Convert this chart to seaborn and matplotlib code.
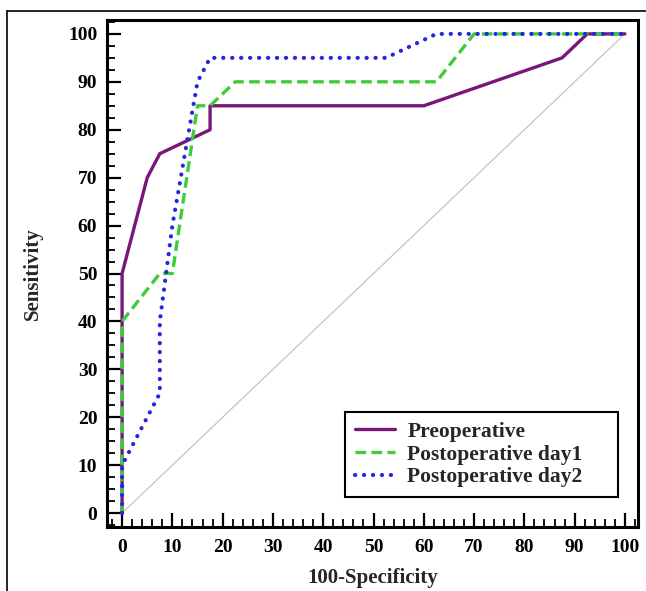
import matplotlib
matplotlib.use("Agg")
import matplotlib.pyplot as plt
from matplotlib.lines import Line2D
from matplotlib.ticker import MultipleLocator
import seaborn as sns
import pandas as pd

# ROC data (100-Specificity, Sensitivity)
pre_x = [0, 0, 5, 7.5, 17.5, 17.5, 60, 87.5, 92.5, 100]
pre_y = [0, 50, 70, 75, 80, 85, 85, 95, 100, 100]

d1_x = [0, 0, 7.5, 10, 15, 17.5, 22.5, 62.5, 70, 100]
d1_y = [0, 40, 50, 50, 85, 85, 90, 90, 100, 100]

d2_x = [0, 0, 7.5, 7.5, 10, 15, 17.5, 52.5, 62.5, 100]
d2_y = [0, 10, 25, 40, 60, 90, 95, 95, 100, 100]

series_names = ["Preoperative", "Postoperative day1", "Postoperative day2"]
ticks = list(range(0, 101, 10))

sns.set_style("ticks")
plt.rcParams['font.family'] = ['Liberation Serif', 'DejaVu Serif']
plt.rcParams['font.weight'] = 'bold'
plt.rcParams['xtick.direction'] = 'in'
plt.rcParams['ytick.direction'] = 'in'

fig = plt.figure(figsize=(6.46, 5.91), dpi=100)
ax = fig.add_axes([107/646, 1-527/591, (638-107)/646, (527-20)/591])

# reference diagonal
diag = pd.DataFrame({"x": [0, 100], "y": [0, 100]})
sns.lineplot(data=diag, x="x", y="y", ax=ax, color="#c4c4c4", linewidth=0.9,
             estimator=None, sort=False, legend=False)

styles = [
    dict(color="#7a157a", linestyle="-", linewidth=2.4),
    dict(color="#3ccc3c", linestyle=(0, (3.2, 1.6)), linewidth=2.4),
    dict(color="#2626e0", linestyle=(0, (0.05, 2.1)), linewidth=3.0,
         dash_capstyle="round"),
]
for name, xs, ys, st in zip(series_names, [pre_x, d1_x, d2_x], [pre_y, d1_y, d2_y], styles):
    df = pd.DataFrame({"x": xs, "y": ys})
    sns.lineplot(data=df, x="x", y="y", ax=ax, estimator=None, sort=False,
                 label=name, **st)

ax.set_xlim(-3.0, 102.6)
ax.set_ylim(-2.9, 102.9)
ax.set_xticks(ticks)
ax.set_yticks(ticks)
ax.xaxis.set_minor_locator(MultipleLocator(2))
ax.yaxis.set_minor_locator(MultipleLocator(2.5))
ax.tick_params(axis="both", which="major", direction="in", length=10, width=1.6,
               labelsize=14, colors="black", top=False, right=False)
ax.tick_params(axis="both", which="minor", direction="in", length=5.5, width=1.3,
               colors="black", top=False, right=False)
ax.tick_params(axis="y", which="major", pad=7)
ax.tick_params(axis="x", which="major", pad=9)
for lab in ax.get_xticklabels() + ax.get_yticklabels():
    lab.set_fontweight("bold")

for sp in ax.spines.values():
    sp.set_visible(True)
    sp.set_linewidth(2.2)
    sp.set_color("black")

ax.set_xlabel("100-Specificity", fontsize=15, fontweight="bold", labelpad=8)
ax.set_ylabel("Sensitivity", fontsize=15, fontweight="bold", labelpad=18)

leg = ax.legend(loc="lower left",
                bbox_to_anchor=((345-107)/531, 30/507, (618-345)/531, 89/507),
                mode="expand",
                fontsize=15.5, frameon=True, fancybox=False, framealpha=1,
                edgecolor="black", handlelength=1.85, borderpad=0.45,
                labelspacing=0.12, handletextpad=0.6, borderaxespad=0)
leg.get_frame().set_linewidth(1.5)
for t in leg.get_texts():
    t.set_fontweight("bold")

# outer frame lines
fig.add_artist(Line2D([7/646, 7/646], [0, 1-11/591], color="black", linewidth=1.2,
                      transform=fig.transFigure))
fig.add_artist(Line2D([7/646, 1], [1-11/591, 1-11/591], color="black", linewidth=1.2,
                      transform=fig.transFigure))

fig.savefig("out.png", dpi=100)
